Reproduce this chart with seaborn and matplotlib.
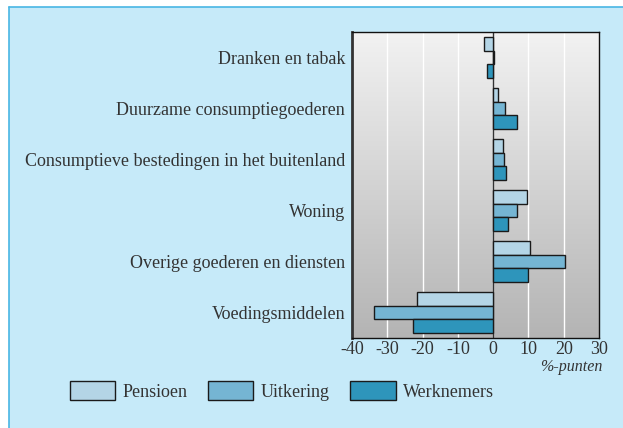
import numpy as np
import pandas as pd
import seaborn as sns
from matplotlib import pyplot as plt
from matplotlib.colors import LinearSegmentedColormap
from matplotlib.patches import Rectangle, Patch
from matplotlib.lines import Line2D

categories = [
    "Dranken en tabak",
    "Duurzame consumptiegoederen",
    "Consumptieve bestedingen in het buitenland",
    "Woning",
    "Overige goederen en diensten",
    "Voedingsmiddelen",
]
groups = ["Pensioen", "Uitkering", "Werknemers"]
pensioen = [-2.6, 1.3, 2.9, 9.6, 10.5, -21.6]
uitkering = [0.3, 3.5, 3.0, 6.9, 20.3, -33.7]
werknemers = [-1.7, 6.7, 3.6, 4.1, 10.0, -22.7]
xticks = [-40, -30, -20, -10, 0, 10, 20, 30]

colors = ["#b4d5e6", "#75b5d3", "#2e95bb"]

df = pd.DataFrame({
    "cat": categories * 3,
    "groep": [g for g in groups for _ in categories],
    "waarde": pensioen + uitkering + werknemers,
})

sns.set_theme(style="white")
plt.rcParams["font.family"] = ["Liberation Serif", "DejaVu Serif"]

fig = plt.figure(figsize=(6.23, 4.28), dpi=100, facecolor="white")
# light blue panel with border on top and left
x0 = 9 / 623
y1 = 1 - 7 / 428
fig.patches.append(Rectangle((x0, 0), 1 - x0, y1, transform=fig.transFigure,
                             facecolor="#c6eaf9", edgecolor="none", zorder=-10))
fig.lines.append(Line2D([x0, x0], [0, y1], transform=fig.transFigure, color="#49b6e4", lw=1.2, zorder=-5))
fig.lines.append(Line2D([x0, 1], [y1, y1], transform=fig.transFigure, color="#49b6e4", lw=1.2, zorder=-5))

ax = fig.add_axes([352 / 623, 1 - 338 / 428, 247 / 623, 306 / 428])

# vertical gradient background
grad = np.linspace(0, 1, 256).reshape(-1, 1)
ax.imshow(grad, extent=[-40, 30, 5.5, -0.5], aspect="auto",
          cmap=LinearSegmentedColormap.from_list("g", ["#f2f2f2", "#b4b4b4"]),
          zorder=0)

for t in xticks[1:-1]:
    ax.axvline(t, color="white", lw=1.0, zorder=1)

sns.barplot(data=df, y="cat", x="waarde", hue="groep", order=categories,
            hue_order=groups, palette=colors, saturation=1, orient="h", ax=ax,
            edgecolor="#1a1a1a", linewidth=1.0, width=0.8, legend=False, zorder=3)

ax.axvline(0, color="#333333", lw=1.0, zorder=2)
ax.set_xlim(-40, 30)
ax.set_ylim(5.5, -0.5)
ax.set_xticks(xticks)
ax.set_xticklabels([str(t) for t in xticks], fontsize=13, color="#333333")
ax.tick_params(axis="y", labelsize=13, colors="#333333", length=0, pad=5)
ax.tick_params(axis="x", length=0, pad=2)
ax.set_xlabel("")
ax.set_ylabel("")
for s in ax.spines.values():
    s.set_color("#111111")
    s.set_linewidth(1.0)
ax.spines["left"].set_linewidth(2.0)
ax.spines["left"].set_color("#333333")

ax.text(1.015, -0.07, "%-punten", transform=ax.transAxes, ha="right", va="top",
        fontsize=11.5, style="italic", color="#333333")

handles = [Patch(facecolor=c, edgecolor="#1a1a1a", linewidth=1.0, label=g)
           for c, g in zip(colors, groups)]
fig.legend(handles=handles, loc="center", bbox_to_anchor=(282 / 623, 1 - 391 / 428),
           ncol=3, frameon=False, fontsize=13, handlelength=2.5, handleheight=1.25,
           columnspacing=1.15, handletextpad=0.4, labelcolor="#333333")

fig.savefig("out.png", dpi=100, facecolor="white")
